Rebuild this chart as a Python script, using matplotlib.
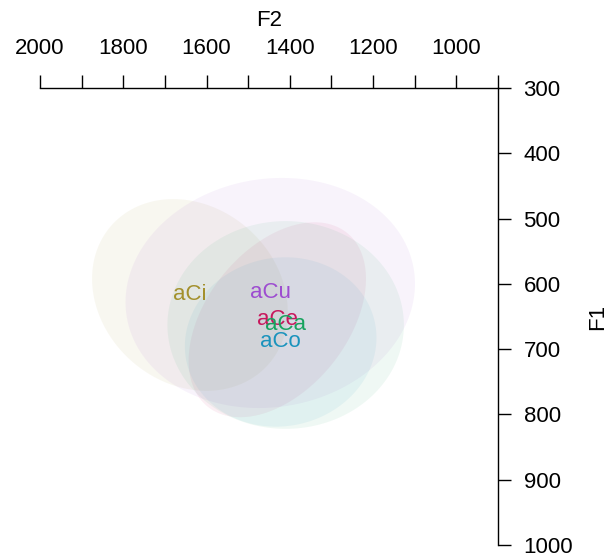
import numpy as np
import matplotlib
matplotlib.use("Agg")
import matplotlib.pyplot as plt
from matplotlib.patches import Polygon

plt.rcParams['font.family'] = ['Liberation Sans', 'DejaVu Sans']

# vowel means / spread (Hz)
vowels = ['aCi', 'aCu', 'aCe', 'aCa', 'aCo']
f2_mean = [1640, 1447, 1430, 1410, 1422]
f1_mean = [617, 614, 655, 663, 689]
f2_sd = [96, 142, 87, 116, 94]
f1_sd = [60, 72, 61, 65, 53]
rho = [-0.17, 0.08, 0.42, 0.0, 0.05]
colors = ['#a3902c', '#9d4cd0', '#c8175c', '#17a35e', '#1a93bd']

# axis ticks
f2_ticks = list(range(2000, 899, -100))
f2_labels = [str(t) if t % 200 == 0 and t >= 1000 else '' for t in f2_ticks]
f1_ticks = list(range(300, 1001, 100))

k = 2.4477  # 95% ellipse
fs = 16

fig = plt.figure(figsize=(6.13, 5.55), dpi=100, facecolor='white')
ax = fig.add_axes([40 / 613, 10 / 555, 458 / 613, 457 / 555])

t = np.linspace(0, 2 * np.pi, 200)
for i, v in enumerate(vowels):
    cov = np.array([[f2_sd[i] ** 2, rho[i] * f2_sd[i] * f1_sd[i]],
                    [rho[i] * f2_sd[i] * f1_sd[i], f1_sd[i] ** 2]])
    L = np.linalg.cholesky(cov)
    pts = (L @ np.vstack([np.cos(t), np.sin(t)])).T * k
    pts[:, 0] += f2_mean[i]
    pts[:, 1] += f1_mean[i]
    ax.add_patch(Polygon(pts, closed=True, facecolor=colors[i], alpha=0.065,
                         edgecolor='none'))

for i, v in enumerate(vowels):
    ax.text(f2_mean[i], f1_mean[i], v, color=colors[i], fontsize=fs,
            ha='center', va='center')

ax.set_xlim(2000, 900)
ax.set_ylim(1000, 300)

for s in ['left', 'bottom']:
    ax.spines[s].set_visible(False)
for s in ['top', 'right']:
    ax.spines[s].set_linewidth(1.0)

ax.xaxis.set_ticks_position('top')
ax.xaxis.set_label_position('top')
ax.yaxis.set_ticks_position('right')
ax.yaxis.set_label_position('right')

ax.set_xticks(f2_ticks)
ax.set_xticklabels(f2_labels)
ax.set_yticks(f1_ticks)
ax.set_yticklabels([str(t) for t in f1_ticks])

ax.tick_params(axis='x', direction='out', length=9.4, width=1.0, pad=11.5,
               labelsize=fs)
ax.tick_params(axis='y', direction='out', length=9.4, width=1.0, pad=9,
               labelsize=fs)

ax.set_xlabel('F2', fontsize=fs, labelpad=8.5)
ax.set_ylabel('F1', fontsize=fs, labelpad=10, rotation=90)

fig.savefig('out.png', dpi=100, facecolor='white')
